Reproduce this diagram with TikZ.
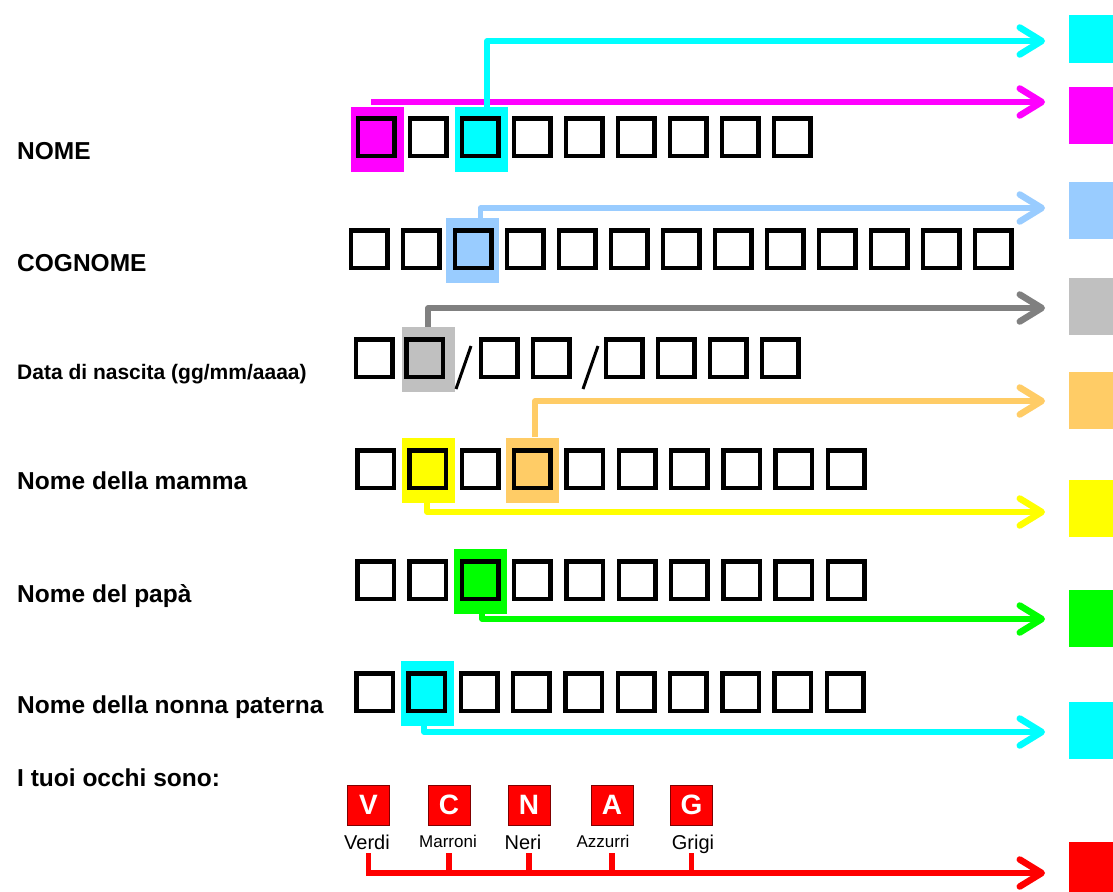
\documentclass[tikz,border=0pt]{standalone}
\usepackage{fontspec}
\setmainfont{Liberation Sans}
\usetikzlibrary{arrows.meta,calc}

\definecolor{cCyan}{HTML}{00FFFF}
\definecolor{cMagenta}{HTML}{FF00FF}
\definecolor{cSky}{HTML}{99CCFF}
\definecolor{cSilver}{HTML}{C0C0C0}
\definecolor{cGrayLine}{HTML}{808080}
\definecolor{cGold}{HTML}{FFCC66}
\definecolor{cYellow}{HTML}{FFFF00}
\definecolor{cGreen}{HTML}{00FF00}
\definecolor{cRed}{HTML}{FF0000}
\definecolor{cDarkRed}{HTML}{7F0000}

\begin{document}
\begin{tikzpicture}[x=1pt,y=-1pt,
  cell/.style={draw=black, line width=4.5pt, minimum width=36.5pt, minimum height=37.5pt, inner sep=0pt},
  hilite/.style={fill=#1, draw=none, minimum width=53pt, minimum height=65pt, inner sep=0pt},
  swatch/.style={fill=#1, draw=none, anchor=north west, minimum width=44pt, minimum height=57pt, inner sep=0pt},
  rowtext/.style={anchor=base west, inner sep=0pt, font=\bfseries\fontsize{24.5}{28}\selectfont},
  link/.style={draw=#1, line width=5.5pt, line join=round,
    -{Straight Barb[length=22pt,width=27pt,line width=6.5pt,round]}},
  eyebox/.style={fill=cRed, draw=cDarkRed, line width=1pt, minimum width=42pt, minimum height=40pt,
    inner sep=0pt, text=white, font=\bfseries\fontsize{28}{30}\selectfont},
  eyetext/.style={anchor=base, inner sep=0pt, font=\fontsize{#1}{#1}\selectfont},
]
\useasboundingbox (0,0) rectangle (1113,891);

% colour swatches on the right edge
\node[swatch=cCyan,    minimum height=48pt] (sw1) at (1069,15) {};
\node[swatch=cMagenta] (sw2) at (1069,87) {};
\node[swatch=cSky]     (sw3) at (1069,182) {};
\node[swatch=cSilver]  (sw4) at (1069,278) {};
\node[swatch=cGold]    (sw5) at (1069,372) {};
\node[swatch=cYellow]  (sw6) at (1069,480) {};
\node[swatch=cGreen]   (sw7) at (1069,590) {};
\node[swatch=cCyan]    (sw8) at (1069,702) {};
\node[swatch=cRed]     (sw9) at (1069,842) {};

% arrow tips in front of the swatches
\coordinate (t1) at (1045,41);
\coordinate (t2) at (1045,102);
\coordinate (t3) at (1045,208);
\coordinate (t4) at (1045,308);
\coordinate (t5) at (1045,401);
\coordinate (t6) at (1045,512);
\coordinate (t7) at (1045,619);
\coordinate (t8) at (1045,732);
\coordinate (t9) at (1045,873);

% row labels
\node[rowtext] (lNome) at (17,159) {NOME};
\node[rowtext] (lCogn) at (17,271) {COGNOME};
\node[rowtext, font=\bfseries\fontsize{21}{24}\selectfont] (lData) at (17,379) {Data di nascita (gg/mm/aaaa)};
\node[rowtext] (lMamma) at (17,489) {Nome della mamma};
\node[rowtext] (lPapa) at (17,602) {Nome del papà};
\node[rowtext] (lNonna) at (17,713) {Nome della nonna paterna};
\node[rowtext] (lOcchi) at (17,786) {I tuoi occhi sono:};

% highlighted letters
\node[hilite=cMagenta] (hNa) at (377,139.5) {};
\node[hilite=cCyan]    (hNc) at (481,139.5) {};
\node[hilite=cSky]     (hC)  at (472.5,250.5) {};
\node[hilite=cSilver]  (hD)  at (428,359.5) {};
\node[hilite=cYellow]  (hMy) at (428,470) {};
\node[hilite=cGold]    (hMo) at (532,470) {};
\node[hilite=cGreen]   (hP)  at (480.5,581) {};
\node[hilite=cCyan]    (hNn) at (427.5,693.5) {};

% letter cells
\foreach \i in {0,...,8}  \node[cell] (cn\i) at ({376+52*\i},137) {};
\foreach \i in {0,...,12} \node[cell] (cc\i) at ({369+52*\i},249) {};
\foreach \x [count=\i] in {374,424.5,499,551,624,676,728,780} \node[cell] (cd\i) at (\x,358) {};
\draw[line width=3pt] (456,389) -- (471,346);
\draw[line width=3pt] (583,389) -- (598,346);
\foreach \i in {0,...,9}  \node[cell] (cm\i) at ({375.5+52.3*\i},469) {};
\foreach \i in {0,...,9}  \node[cell] (cp\i) at ({375.5+52.3*\i},580) {};
\foreach \i in {0,...,9}  \node[cell] (ca\i) at ({374.5+52.3*\i},692) {};

% connectors from the highlighted letters to the swatches
\draw[link=cMagenta] ($(t2 -| hNa.north)+(-6,0)$) -- (t2);
\draw[link=cCyan]    ([xshift=6pt]hNc.north) |- (t1);
\draw[link=cSky]     ([xshift=8pt]hC.north) |- (t3);
\draw[link=cGrayLine]([xshift=0pt]hD.north) |- (t4);
\draw[link=cGold]    ([xshift=3pt]hMo.north) |- (t5);
\draw[link=cYellow]  ([xshift=-1pt]hMy.south) |- (t6);
\draw[link=cGreen]   ([xshift=1.5pt]hP.south) |- (t7);
\draw[link=cCyan]    ([xshift=-3.5pt]hNn.south) |- (t8);

% eye colours
\node[eyebox] (eV) at (368.5,805) {V};
\node[eyebox] (eC) at (449,805) {C};
\node[eyebox] (eN) at (529,805) {N};
\node[eyebox] (eA) at (612,805) {A};
\node[eyebox] (eG) at (691.5,805) {G};
\node[eyetext=20] (yV) at (367,849) {Verdi};
\node[eyetext=17] (yC) at (448,847) {Marroni};
\node[eyetext=20] (yN) at (523,849) {Neri};
\node[eyetext=17] (yA) at (603,847) {Azzurri};
\node[eyetext=20] (yG) at (693,849) {Grigi};

\draw[link=cRed, line join=miter] (eV |- 0,853) |- (t9);
\foreach \e in {eC,eN,eA,eG}
  \draw[cRed, line width=5.5pt] (\e |- 0,853) -- (\e |- t9);
\end{tikzpicture}
\end{document}
